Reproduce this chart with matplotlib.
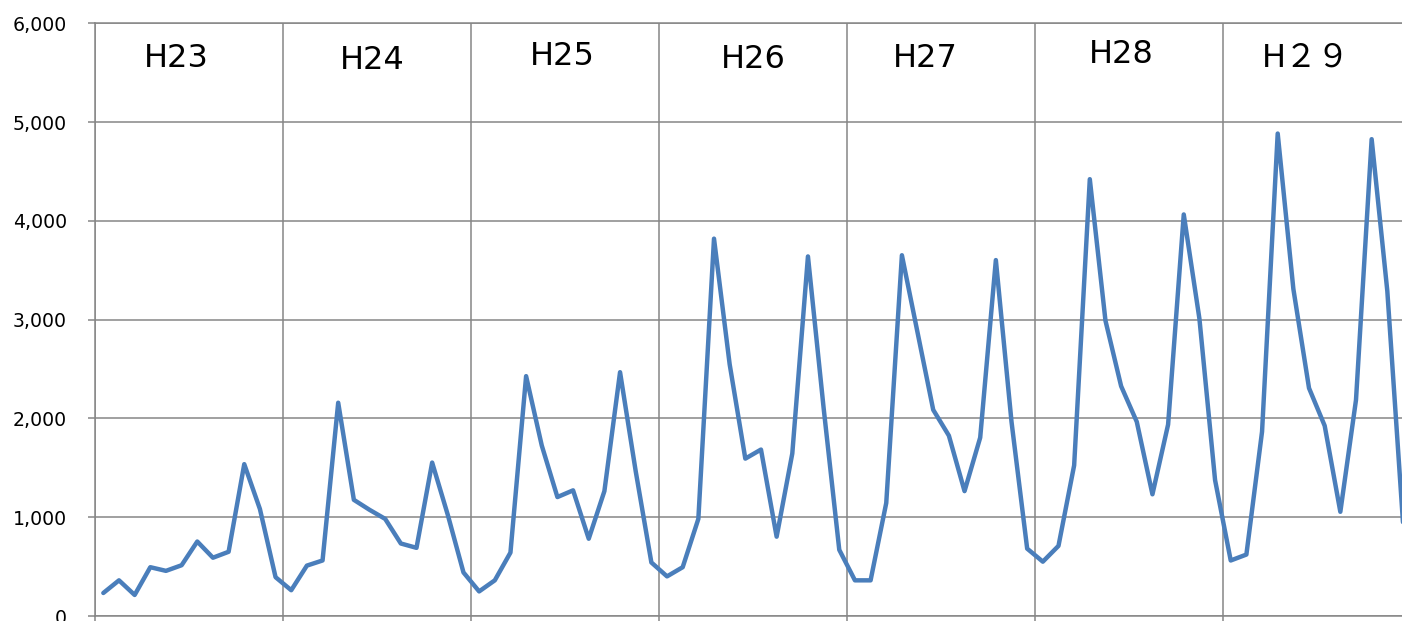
import matplotlib
matplotlib.use("Agg")
import matplotlib.pyplot as plt
from matplotlib.ticker import FuncFormatter, MultipleLocator
import numpy as np

# Monthly values, 12 per fiscal year (H23 .. H29)
h23 = [233, 361, 213, 494, 457, 514, 754, 590, 650, 1537, 1083, 393]
h24 = [261, 510, 562, 2159, 1176, 1075, 983, 734, 690, 1553, 1023, 441]
h25 = [249, 361, 642, 2428, 1726, 1204, 1272, 782, 1264, 2468, 1465, 542]
h26 = [401, 494, 983, 3820, 2548, 1593, 1685, 803, 1645, 3640, 2107, 670]
h27 = [361, 361, 1144, 3652, 2869, 2087, 1826, 1264, 1806, 3603, 1966, 682]
h28 = [550, 710, 1525, 4422, 2990, 2327, 1966, 1232, 1938, 4065, 3010, 1376]
h29 = [562, 622, 1866, 4884, 3311, 2307, 1926, 1055, 2187, 4827, 3290, 950]

year_labels = ["H23", "H24", "H25", "H26", "H27", "H28", "H２９"]
label_x = [4.69, 17.16, 29.33, 41.5, 52.5, 65.0, 76.8]
label_y = [5643, 5620, 5664, 5633, 5643, 5684, 5643]

values = h23 + h24 + h25 + h26 + h27 + h28 + h29
x = np.arange(len(values))

W, H = 1402, 621
fig = plt.figure(figsize=(W / 100, H / 100), dpi=100)
left_px, right_px = 95.5, 1410.8
top_px, bot_px = 23.3, 616.0
ax = fig.add_axes([left_px / W, (H - bot_px) / H,
                   (right_px - left_px) / W, (bot_px - top_px) / H])

grid_col = "#868686"
ax.plot(x, values, color="#4A7EBB", lw=3.2, solid_joinstyle="round",
        solid_capstyle="round", zorder=3)

ax.set_xlim(-0.5, len(values) - 0.5)
ax.set_ylim(0, 6000)
ax.yaxis.set_major_locator(MultipleLocator(1000))
ax.yaxis.set_major_formatter(FuncFormatter(lambda v, p: f"{int(v):,}"))
ax.set_xticks(np.arange(-0.5, len(values), 12))
ax.set_xticklabels([])

ax.grid(True, axis="both", color=grid_col, lw=1.1, zorder=1)
ax.set_axisbelow(True)
for s in ax.spines.values():
    s.set_color(grid_col)
    s.set_linewidth(1.1)

ax.tick_params(axis="y", direction="out", length=5, width=1.1, color=grid_col,
               pad=15.5, labelsize=13.6, labelcolor="black")
ax.tick_params(axis="x", direction="out", length=5, width=1.1, color=grid_col)

for lab, lx, ly in zip(year_labels, label_x, label_y):
    ax.text(lx, ly, lab, ha="center", va="center", fontsize=23,
            family=["DejaVu Sans", "Noto Sans CJK JP"], color="black", zorder=4)

fig.savefig("out.png", dpi=100, facecolor="white")
